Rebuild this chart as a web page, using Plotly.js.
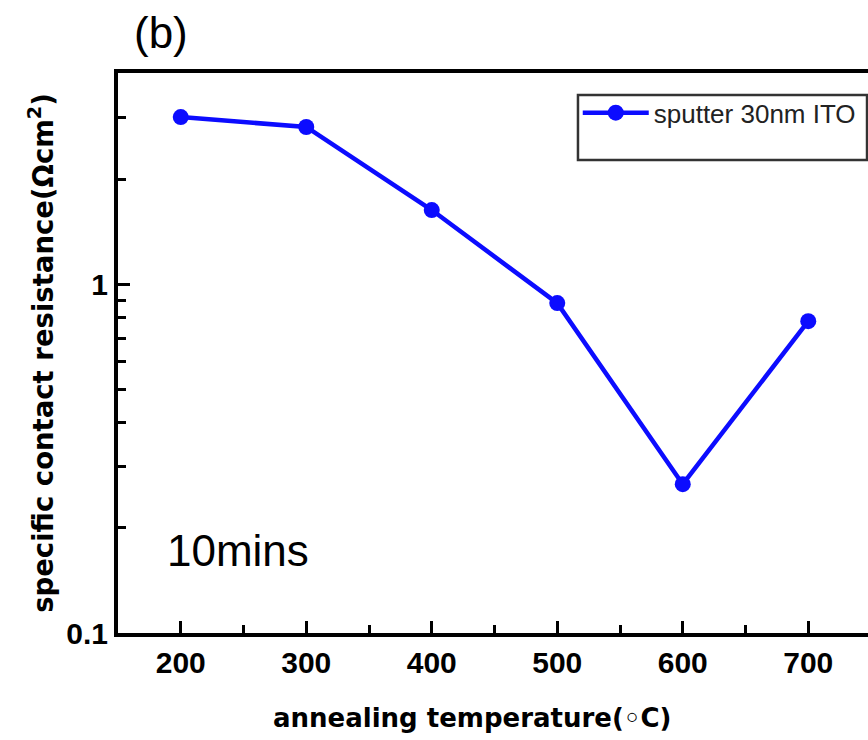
<!DOCTYPE html>
<html>
<head>
<meta charset="utf-8">
<script src="https://cdn.plot.ly/plotly-3.0.1.min.js"></script>
<style>html,body{margin:0;padding:0;background:#fff;}#chart{width:868px;height:740px;}</style>
</head>
<body>
<div id="chart"></div>
<script>
// Data
const temperatures = [200, 300, 400, 500, 600, 700];
const resistance = [3.01, 2.82, 1.63, 0.882, 0.267, 0.783];
const seriesName = "sputter 30nm ITO";
const xTickVals = [200, 300, 400, 500, 600, 700];
const yTickVals = [0.1, 1];
const yTickText = ["0.1", "1"];
const yMinorVals = [0.2, 0.3, 0.4, 0.5, 0.6, 0.7, 0.8, 0.9, 2, 3];
const xTitle = "annealing temperature(◦C)";
const yTitle = "specific contact resistance(Ωcm<sup>2</sup>)";

const tickFont = {family: "Liberation Sans, Arial, sans-serif", size: 30, color: "#000", weight: 700};
const titleFont = {family: "DejaVu Sans, sans-serif", size: 26, color: "#000", weight: 700};

const trace = {
  x: temperatures,
  y: resistance,
  name: seriesName,
  type: "scatter",
  mode: "lines+markers",
  line: {color: "#0c0cff", width: 4.5},
  marker: {color: "#0c0cff", size: 16, symbol: "circle"}
};

const layout = {
  width: 868,
  height: 740,
  margin: {l: 118, r: 0, t: 73, b: 107},
  paper_bgcolor: "#fff",
  plot_bgcolor: "#fff",
  showlegend: true,
  legend: {
    x: 0.613, y: 0.929, xanchor: "left", yanchor: "middle",
    borderwidth: 0, bgcolor: "rgba(0,0,0,0)",
    font: {family: "Liberation Sans, Arial, sans-serif", size: 26, color: "#222"},
    itemwidth: 66
  },
  shapes: [
    {type: "rect", xref: "paper", yref: "paper", x0: 0.6133, x1: 0.9987, y0: 0.8446, y1: 0.9607,
     line: {color: "#333", width: 2.5}, fillcolor: "rgba(0,0,0,0)", layer: "below"}
  ],
  xaxis: {
    range: [150, 747.6],
    tickmode: "array",
    tickvals: xTickVals,
    ticks: "inside", ticklen: 12, tickwidth: 3, tickcolor: "#000",
    minor: {ticks: "inside", ticklen: 8, tickwidth: 3, tickcolor: "#000", dtick: 50, tick0: 150, showgrid: false},
    showline: true, linewidth: 4, linecolor: "#000", mirror: true,
    showgrid: false, zeroline: false,
    tickfont: tickFont
  },
  yaxis: {
    type: "log",
    range: [-1, 0.605],
    tickmode: "array",
    tickvals: yTickVals,
    ticktext: yTickText,
    ticks: "inside", ticklen: 12, tickwidth: 3, tickcolor: "#000",
    minor: {ticks: "inside", ticklen: 8, tickwidth: 3, tickcolor: "#000", tickmode: "array", tickvals: yMinorVals, showgrid: false},
    showline: true, linewidth: 4, linecolor: "#000", mirror: false,
    showgrid: false, zeroline: false,
    tickfont: tickFont,
    title: {text: yTitle, font: {family: "DejaVu Sans, sans-serif", size: 27.5, color: "#000", weight: 700}, standoff: 6}
  },
  annotations: [
    {text: xTitle, xref: "paper", yref: "paper", x: 0.472, y: -0.152, xanchor: "center", yanchor: "middle", showarrow: false,
     font: titleFont},
    {text: "(b)", xref: "paper", yref: "paper", x: 0.057, y: 1.073, xanchor: "center", yanchor: "middle", showarrow: false,
     font: {family: "Liberation Sans, Arial, sans-serif", size: 44, color: "#000"}},
    {text: "10mins", xref: "paper", yref: "paper", x: 0.062, y: 0.148, xanchor: "left", yanchor: "middle", showarrow: false,
     font: {family: "Liberation Sans, Arial, sans-serif", size: 44, color: "#000"}}
  ]
};

Plotly.newPlot("chart", [trace], layout, {displayModeBar: false, staticPlot: true});
</script>
</body>
</html>
